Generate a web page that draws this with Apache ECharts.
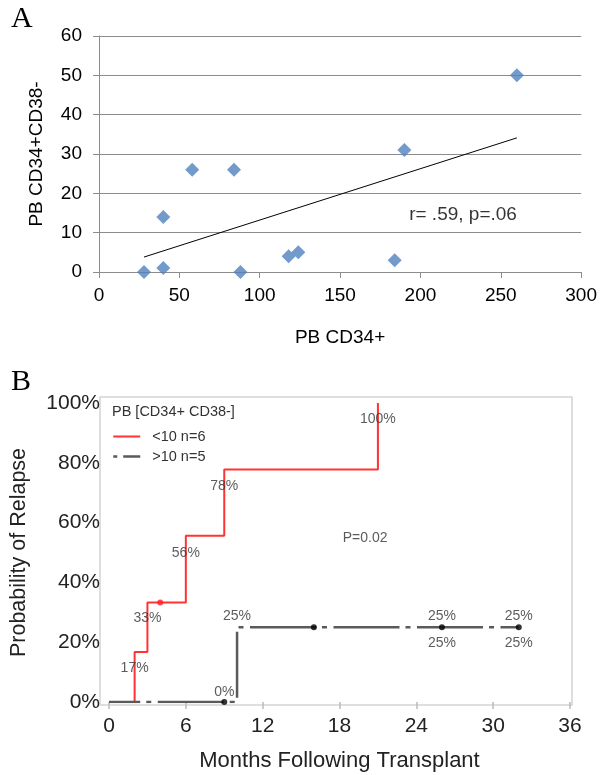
<!DOCTYPE html>
<html><head><meta charset="utf-8">
<script src="https://cdn.jsdelivr.net/npm/echarts@6/dist/echarts.min.js"></script>
<style>html,body{margin:0;padding:0;background:#fff}#c{width:600px;height:775px}</style>
</head><body><div id="c"></div>
<script>
// ---- Panel A data ----
const aX = [28, 40, 40, 58, 84, 88, 118, 124, 184, 190, 260];
const aY = [0, 14, 1, 26, 26, 0, 4, 5, 3, 31, 50];
const trendX = [28, 260];
const trendY = [3.8, 34.1];
const annoAX = [226.5];
const annoAY = [14.6];
const annoAText = ['r= .59, p=.06'];
// ---- Panel B data ----
const lowX = [0, 2, 3, 6, 9, 21];
const lowY = [0, 16.7, 33.3, 55.6, 77.8, 100];
const highX = [0, 10, 32];
const highY = [0, 25, 25];
const lowCensorX = [4];
const lowCensorY = [33.3];
const highCensorX = [9, 16, 26, 32];
const highCensorY = [0, 25, 25, 25];
const labX = [21, 9, 6, 3, 2, 10, 9, 26, 26, 32, 32, 20];
const labY = [94.5, 72.3, 49.9, 28, 11.2, 28.6, 3.4, 28.6, 19.6, 28.6, 19.6, 54.9];
const labText = ['100%', '78%', '56%', '33%', '17%', '25%', '0%', '25%', '25%', '25%', '25%', 'P=0.02'];
const bXTicks = [0, 36, 6];
const bYTicks = [0, 100, 20];

const SANS = '"Liberation Sans", Arial, sans-serif';
const SERIF = '"Liberation Serif", "Times New Roman", serif';
const zip = (xs, ys) => xs.map((x, i) => [x, ys[i]]);

const chart = echarts.init(document.getElementById('c'), null, {renderer: 'canvas'});
chart.setOption({
  animation: false,
  backgroundColor: '#fff',
  title: [
    {text: 'A', left: 6, top: -1, textStyle: {fontFamily: SERIF, fontSize: 30, fontWeight: 'normal', color: '#000'}},
    {text: 'B', left: 6, top: 362, textStyle: {fontFamily: SERIF, fontSize: 30, fontWeight: 'normal', color: '#000'}},
    {text: 'PB [CD34+ CD38-]', left: 112, top: 404, padding: 0, textStyle: {fontFamily: SANS, fontSize: 14.5, fontWeight: 'normal', color: '#333'}}
  ],
  legend: {
    left: 112, top: 429, orient: 'vertical', padding: 0, itemGap: 5,
    itemWidth: 27, itemHeight: 14,
    itemStyle: {color: 'rgba(0,0,0,0)', borderWidth: 0},
    textStyle: {fontFamily: SANS, fontSize: 14.5, color: '#333', padding: [0, 0, 0, 7]},
    data: [
      {name: '<10 n=6', lineStyle: {color: '#ff3333', width: 2, type: 'solid'}},
      {name: '>10 n=5', lineStyle: {color: '#5a5a5a', width: 2.5, type: [4, 6, 40], dashOffset: 0}}
    ]
  },
  grid: [
    {left: 99, top: 36, width: 485, height: 236},
    {left: 102, top: 403, width: 468, height: 299},
    {left: 100, top: 397, width: 472, height: 308, show: true, borderColor: '#d4d4d4', borderWidth: 1.5, backgroundColor: 'transparent'}
  ],
  xAxis: [
    {gridIndex: 0, type: 'value', min: 0, max: 300, interval: 50,
     name: 'PB CD34+', nameLocation: 'middle', nameGap: 56,
     nameTextStyle: {fontFamily: SANS, fontSize: 19, color: '#000'},
     axisLine: {show: true, lineStyle: {color: '#8c8c8c', width: 1}},
     axisTick: {show: true, length: 6, lineStyle: {color: '#8c8c8c'}},
     axisLabel: {fontFamily: SANS, fontSize: 19, color: '#000', margin: 14},
     splitLine: {show: false}},
    {gridIndex: 1, type: 'value', min: bXTicks[0], max: bXTicks[1], interval: bXTicks[2], offset: 3,
     name: 'Months Following Transplant', nameLocation: 'middle', nameGap: 45,
     nameTextStyle: {fontFamily: SANS, fontSize: 22, color: '#222'},
     axisLine: {show: false},
     axisTick: {show: true, length: 7, lineStyle: {color: '#bbb', width: 1.5}},
     axisLabel: {fontFamily: SANS, fontSize: 21, color: '#222', margin: 11},
     splitLine: {show: false}},
    {gridIndex: 2, type: 'value', min: 0, max: 1, show: false}
  ],
  yAxis: [
    {gridIndex: 0, type: 'value', min: 0, max: 60, interval: 10,
     name: 'PB CD34+CD38-', nameLocation: 'middle', nameGap: 53, nameRotate: 90,
     nameTextStyle: {fontFamily: SANS, fontSize: 19, color: '#000'},
     axisLine: {show: true, lineStyle: {color: '#8c8c8c', width: 1}},
     axisTick: {show: true, length: 6, lineStyle: {color: '#8c8c8c'}},
     axisLabel: {fontFamily: SANS, fontSize: 19, color: '#000', margin: 17},
     splitLine: {show: true, lineStyle: {color: '#8c8c8c', width: 1}}},
    {gridIndex: 1, type: 'value', min: bYTicks[0], max: bYTicks[1], interval: bYTicks[2],
     name: 'Probability of Relapse', nameLocation: 'middle', nameGap: 79, nameRotate: 90,
     nameTextStyle: {fontFamily: SANS, fontSize: 21.5, color: '#222'},
     axisLine: {show: false}, axisTick: {show: false},
     axisLabel: {fontFamily: SANS, fontSize: 21, color: '#222', margin: 9, formatter: '{value}%'},
     splitLine: {show: false}},
    {gridIndex: 2, type: 'value', min: 0, max: 1, show: false}
  ],
  series: [
    {type: 'scatter', xAxisIndex: 0, yAxisIndex: 0, symbol: 'diamond', symbolSize: 14,
     itemStyle: {color: '#4f81bd'}, data: zip(aX, aY), z: 3},
    {type: 'line', xAxisIndex: 0, yAxisIndex: 0, symbol: 'none', showSymbol: false,
     lineStyle: {color: '#000', width: 1}, data: zip(trendX, trendY), z: 2},
    {type: 'scatter', xAxisIndex: 0, yAxisIndex: 0, symbolSize: 0, silent: true,
     data: annoAX.map((x, i) => ({value: [x, annoAY[i]], label: {formatter: annoAText[i]}})),
     label: {show: true, position: 'inside', fontFamily: SANS, fontSize: 19, color: '#000'}},
    {name: '<10 n=6', type: 'line', step: 'end', xAxisIndex: 1, yAxisIndex: 1, symbol: 'none', showSymbol: false,
     lineStyle: {color: '#ff3333', width: 2}, itemStyle: {color: '#ff3333'}, data: zip(lowX, lowY), z: 2},
    {name: '>10 n=5', type: 'line', step: 'end', xAxisIndex: 1, yAxisIndex: 1, symbol: 'none', showSymbol: false,
     lineStyle: {color: '#5a5a5a', width: 2.5, type: [66, 6, 5, 6.5], dashOffset: 34.75},
     itemStyle: {color: '#5a5a5a'}, data: zip(highX, highY), z: 3},
    {type: 'scatter', xAxisIndex: 1, yAxisIndex: 1, symbol: 'circle', symbolSize: 6,
     itemStyle: {color: '#ff2020'}, data: zip(lowCensorX, lowCensorY), z: 4},
    {type: 'scatter', xAxisIndex: 1, yAxisIndex: 1, symbol: 'circle', symbolSize: 6,
     itemStyle: {color: '#000'}, data: zip(highCensorX, highCensorY), z: 4},
    {type: 'scatter', xAxisIndex: 1, yAxisIndex: 1, symbolSize: 0, silent: true,
     data: labX.map((x, i) => ({value: [x, labY[i]], label: {formatter: labText[i]}})),
     label: {show: true, position: 'inside', fontFamily: SANS, fontSize: 14, color: '#333'}, z: 5}
  ]
});
</script></body></html>
